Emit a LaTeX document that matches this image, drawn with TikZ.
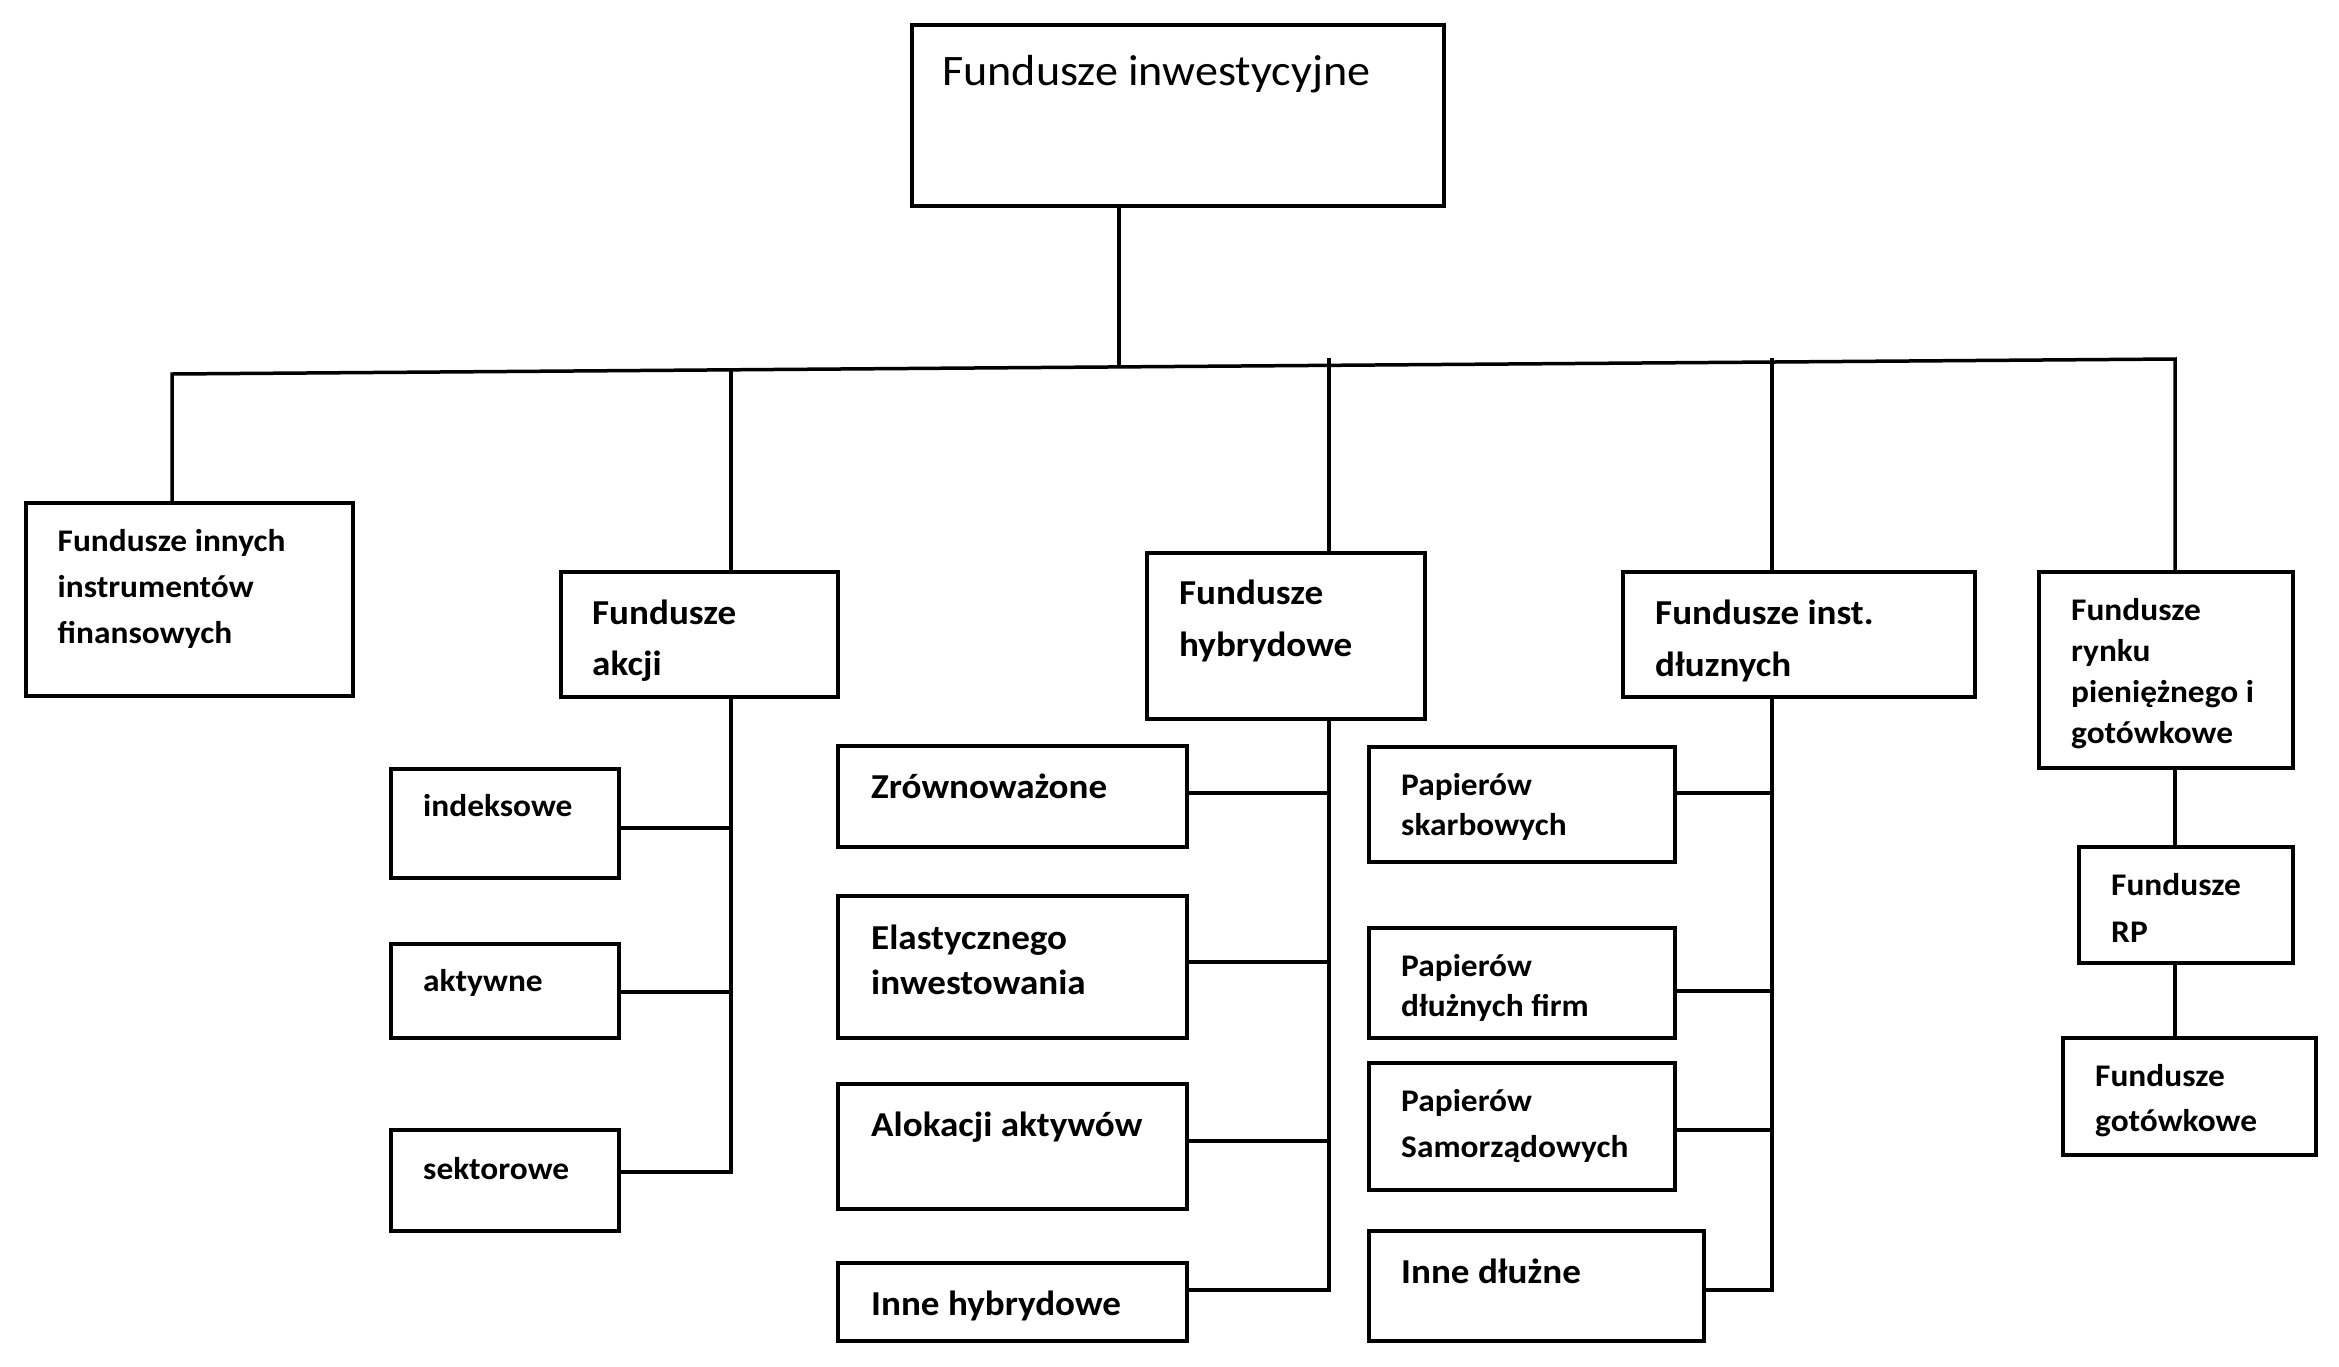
\documentclass[tikz,border=0pt]{standalone}
\usepackage{fontspec}
\setmainfont{Carlito}[FakeStretch=1.06]
\usetikzlibrary{fit}
\newcommand\boxtext[3]{{\fontsize{#1}{#2}\selectfont\begin{tabular}[t]{@{}l@{}}#3\end{tabular}}}
\begin{document}
\begin{tikzpicture}[x=1pt,y=-1pt,
  box/.style={draw, line width=4.5pt, inner sep=0pt, rectangle},
  conn/.style={line width=3.5pt},
  lblM/.style={inner sep=0pt, anchor=base west, font=\bfseries\fontsize{31.5}{46}\selectfont},
  lblL/.style={inner sep=0pt, anchor=base west, font=\bfseries\fontsize{35}{52}\selectfont},
  lblT/.style={inner sep=0pt, anchor=base west, font=\fontsize{43.5}{52}\selectfont}]
\useasboundingbox (0,0) rectangle (2339,1366);
% boxes
\node[box, fit={(912,25) (1444,206)}] (top) {};
\node[box, fit={(26,503) (353,696)}] (inn) {};
\node[box, fit={(561,572) (838,697)}] (akc) {};
\node[box, fit={(1147,553) (1425,719)}] (hyb) {};
\node[box, fit={(1623,572) (1975,697)}] (ins) {};
\node[box, fit={(2039,572) (2293,768)}] (ryn) {};
\node[box, fit={(2079,847) (2293,963)}] (rp) {};
\node[box, fit={(2063,1038) (2316,1155)}] (got) {};
\node[box, fit={(391,769) (619,878)}] (idx) {};
\node[box, fit={(391,944) (619,1038)}] (akt) {};
\node[box, fit={(391,1130) (619,1231)}] (sek) {};
\node[box, fit={(838,746) (1187,847)}] (zro) {};
\node[box, fit={(838,896) (1187,1038)}] (ela) {};
\node[box, fit={(838,1084) (1187,1209)}] (alo) {};
\node[box, fit={(838,1263) (1187,1341)}] (inh) {};
\node[box, fit={(1369,747) (1675,862)}] (psk) {};
\node[box, fit={(1369,928) (1675,1038)}] (pdf) {};
\node[box, fit={(1369,1063) (1675,1190)}] (psa) {};
\node[box, fit={(1369,1231) (1704,1341)}] (ind) {};
% texts
\node[lblT] (t-top) at (942,85) {Fundusze inwestycyjne};
\node[lblM] (t-inn) at (57.5,551) {\boxtext{31.5}{46}{Fundusze innych\\instrumentów\\finansowych}};
\node[lblL] (t-akc) at (592,624.5) {\boxtext{35}{51}{Fundusze\\akcji}};
\node[lblL] (t-hyb) at (1179,604) {\boxtext{35}{52.5}{Fundusze\\hybrydowe}};
\node[lblL] (t-ins) at (1655,624.5) {\boxtext{35}{52}{Fundusze inst.\\dłuznych}};
\node[lblM] (t-ryn) at (2071,620) {\boxtext{31.5}{41}{Fundusze\\rynku\\pieniężnego i\\gotówkowe}};
\node[lblM] (t-rp) at (2111,895) {\boxtext{31.5}{47}{Fundusze\\RP}};
\node[lblM] (t-got) at (2095,1086) {\boxtext{31.5}{45.7}{Fundusze\\gotówkowe}};
\node[lblM] (t-idx) at (423,816) {indeksowe};
\node[lblM] (t-akt) at (423,991) {aktywne};
\node[lblM] (t-sek) at (423,1179) {sektorowe};
\node[lblL] (t-zro) at (871,798) {Zrównoważone};
\node[lblL] (t-ela) at (871,949) {\boxtext{35}{45}{Elastycznego\\inwestowania}};
\node[lblL] (t-alo) at (871,1136) {Alokacji aktywów};
\node[lblL] (t-inh) at (871,1315) {Inne hybrydowe};
\node[lblM] (t-psk) at (1401,795) {\boxtext{31.5}{40}{Papierów\\skarbowych}};
\node[lblM] (t-pdf) at (1401,976) {\boxtext{31.5}{40.5}{Papierów\\dłużnych firm}};
\node[lblM] (t-psa) at (1401,1111) {\boxtext{31.5}{46}{Papierów\\Samorządowych}};
\node[lblL] (t-ind) at (1401,1283) {Inne dłużne};
% junction coordinates
\coordinate (bL) at (172,374);
\coordinate (bR) at (2175,359);
\coordinate (jTop) at (1119,366);
\coordinate (jAk) at (731,370);
\coordinate (jHy) at (1329,358);
\coordinate (jIn) at (1772,358);
\coordinate (a1) at (731,828);
\coordinate (a2) at (731,992);
\coordinate (aE) at (731,1172);
\coordinate (h1) at (1329,793);
\coordinate (h2) at (1329,962);
\coordinate (h3) at (1329,1141);
\coordinate (hE) at (1329,1290);
\coordinate (i1) at (1772,793);
\coordinate (i2) at (1772,991);
\coordinate (i3) at (1772,1130);
\coordinate (iE) at (1772,1290);
\coordinate (rv) at (2175,900);
% connectors
\draw[conn] (jTop |- top.south) -- (jTop);
\draw[conn] (bL |- inn.north) -- (bL) -- (bR) -- (bR |- ryn.north);
\draw[conn] (jAk) -- (jAk |- akc.north);
\draw[conn] (jHy) -- (jHy |- hyb.north);
\draw[conn] (jIn) -- (jIn |- ins.north);
\draw[conn] (aE |- akc.south) -- (aE) -- (aE -| sek.east);
\draw[conn] (a1 -| idx.east) -- (a1);
\draw[conn] (a2 -| akt.east) -- (a2);
\draw[conn] (hE |- hyb.south) -- (hE) -- (hE -| inh.east);
\draw[conn] (h1 -| zro.east) -- (h1);
\draw[conn] (h2 -| ela.east) -- (h2);
\draw[conn] (h3 -| alo.east) -- (h3);
\draw[conn] (iE |- ins.south) -- (iE) -- (iE -| ind.east);
\draw[conn] (i1 -| psk.east) -- (i1);
\draw[conn] (i2 -| pdf.east) -- (i2);
\draw[conn] (i3 -| psa.east) -- (i3);
\draw[conn] (rv |- ryn.south) -- (rv |- rp.north);
\draw[conn] (rv |- rp.south) -- (rv |- got.north);
\end{tikzpicture}
\end{document}
